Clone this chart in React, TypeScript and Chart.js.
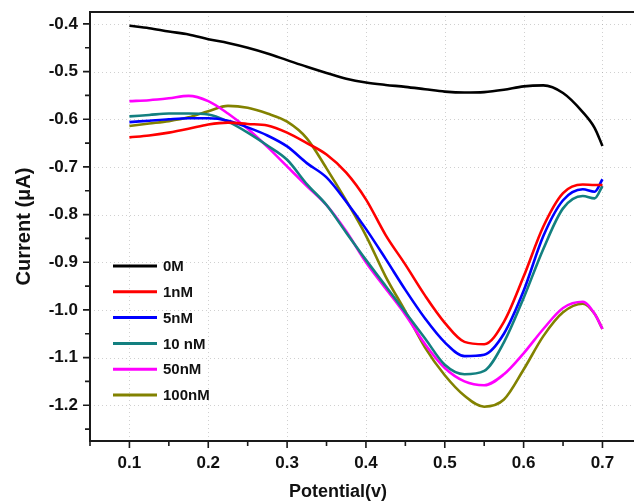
import React, { useEffect, useRef } from 'react';
import { Chart, registerables } from 'chart.js';

Chart.register(...registerables);

// Potential (V)
const potentials = [
  0.1, 0.125, 0.15, 0.175, 0.2, 0.225, 0.25, 0.275, 0.3, 0.325, 0.35, 0.375, 0.4,
  0.425, 0.45, 0.475, 0.5, 0.525, 0.55, 0.575, 0.6, 0.625, 0.65, 0.675, 0.69, 0.7,
];

const seriesLabels = ['0M', '1nM', '5nM', '10 nM', '50nM', '100nM'];
const seriesColors = ['#000000', '#ff0000', '#0000ff', '#138080', '#ff00ff', '#828200'];

const current0M = [
  -0.404, -0.409, -0.416, -0.422, -0.432, -0.44, -0.45, -0.462, -0.476, -0.49, -0.503, -0.515, -0.523,
  -0.528, -0.532, -0.537, -0.542, -0.544, -0.543, -0.538, -0.531, -0.529, -0.545, -0.585, -0.618, -0.656,
];
const current1nM = [
  -0.638, -0.634, -0.628, -0.62, -0.611, -0.607, -0.61, -0.613, -0.628, -0.65, -0.674, -0.712, -0.768,
  -0.843, -0.905, -0.97, -1.027, -1.067, -1.072, -1.025, -0.93, -0.825, -0.755, -0.737, -0.738, -0.738,
];
const current5nM = [
  -0.606, -0.603, -0.6, -0.598, -0.598, -0.603, -0.617, -0.634, -0.657, -0.692, -0.722, -0.773, -0.83,
  -0.893, -0.958, -1.018, -1.068, -1.097, -1.094, -1.05, -0.96, -0.845, -0.77, -0.747, -0.752, -0.726,
];
const current10nM = [
  -0.594, -0.591, -0.588, -0.588, -0.59, -0.605, -0.628, -0.655, -0.685, -0.736, -0.78, -0.838, -0.895,
  -0.95, -1.005, -1.06, -1.115, -1.135, -1.128, -1.068, -0.975, -0.872, -0.787, -0.761, -0.766, -0.74,
];
const current50nM = [
  -0.562, -0.56, -0.556, -0.551, -0.562, -0.588, -0.62, -0.658, -0.699, -0.74, -0.78, -0.835, -0.9,
  -0.955, -1.01, -1.072, -1.122, -1.15, -1.158, -1.135, -1.091, -1.04, -0.996, -0.983, -1.008, -1.04,
];
const current100nM = [
  -0.614, -0.609, -0.604, -0.596, -0.583, -0.572, -0.576, -0.588, -0.605, -0.64, -0.703, -0.771, -0.844,
  -0.93, -1.003, -1.079, -1.137, -1.18, -1.203, -1.188, -1.125, -1.055, -1.005, -0.987, -1.008, -1.04,
];

const allSeries = [current0M, current1nM, current5nM, current10nM, current50nM, current100nM];

// tick positions (major ones carry labels, others are minor)
const xTickValues = [0.05, 0.1, 0.15, 0.2, 0.25, 0.3, 0.35, 0.4, 0.45, 0.5, 0.55, 0.6, 0.65, 0.7];
const yTickValues = [
  -1.25, -1.2, -1.15, -1.1, -1.05, -1.0, -0.95, -0.9, -0.85, -0.8, -0.75, -0.7, -0.65, -0.6,
  -0.55, -0.5, -0.45, -0.4,
];

const xMin = 0.05;
const xMax = 0.74;
const yMin = -1.275;
const yMax = -0.375;

const FONT = '"Liberation Sans", Arial, Helvetica, sans-serif';

const isMult = (v: number, step: number) => Math.abs(v / step - Math.round(v / step)) < 1e-6;

const decorPlugin = {
  id: 'decor',
  beforeDatasetsDraw(chart: any) {
    const { ctx, chartArea: a, scales } = chart;
    const x = scales.x;
    const y = scales.y;
    ctx.save();
    ctx.strokeStyle = 'rgba(150,150,150,0.45)';
    ctx.lineWidth = 1;
    ctx.setLineDash([1, 3]);
    ctx.beginPath();
    x.ticks.forEach((t: any) => {
      if (!isMult(t.value, 0.1)) return;
      const px = Math.round(x.getPixelForValue(t.value)) + 0.5;
      ctx.moveTo(px, a.top);
      ctx.lineTo(px, a.bottom);
    });
    y.ticks.forEach((t: any) => {
      if (!isMult(t.value, 0.1)) return;
      const py = Math.round(y.getPixelForValue(t.value)) + 0.5;
      ctx.moveTo(a.left, py);
      ctx.lineTo(a.right, py);
    });
    ctx.stroke();
    ctx.restore();
  },
  afterDraw(chart: any) {
    const { ctx, chartArea: a, scales } = chart;
    const x = scales.x;
    const y = scales.y;
    ctx.save();
    // frame
    ctx.strokeStyle = '#1a1a1a';
    ctx.lineWidth = 2;
    ctx.beginPath();
    ctx.moveTo(a.right, a.top);
    ctx.lineTo(a.left, a.top);
    ctx.lineTo(a.left, a.bottom);
    ctx.lineTo(a.right, a.bottom);
    ctx.stroke();
    // ticks
    ctx.lineWidth = 1.6;
    ctx.beginPath();
    x.ticks.forEach((t: any) => {
      const px = x.getPixelForValue(t.value);
      const len = isMult(t.value, 0.1) ? 7 : 5;
      ctx.moveTo(px, a.bottom);
      ctx.lineTo(px, a.bottom + len);
    });
    y.ticks.forEach((t: any) => {
      const py = y.getPixelForValue(t.value);
      const len = isMult(t.value, 0.1) ? 7 : 5;
      ctx.moveTo(a.left, py);
      ctx.lineTo(a.left - len, py);
    });
    ctx.stroke();

    // legend
    const ds = chart.data.datasets;
    ctx.font = `bold 15px ${FONT}`;
    ctx.textBaseline = 'middle';
    ctx.textAlign = 'left';
    ds.forEach((d: any, i: number) => {
      const cy = 266 + i * 25.8;
      ctx.strokeStyle = d.borderColor;
      ctx.lineWidth = 3;
      ctx.beginPath();
      ctx.moveTo(a.left + 23, cy);
      ctx.lineTo(a.left + 67, cy);
      ctx.stroke();
      ctx.fillStyle = '#111';
      ctx.fillText(d.label, a.left + 73, cy + 1);
    });

    // axis titles
    ctx.fillStyle = '#111';
    ctx.font = `bold 18px ${FONT}`;
    ctx.textAlign = 'center';
    ctx.textBaseline = 'middle';
    ctx.fillText('Potential(v)', 338, 492);
    ctx.save();
    ctx.translate(24, (a.top + a.bottom) / 2);
    ctx.rotate(-Math.PI / 2);
    ctx.font = `bold 20px ${FONT}`;
    ctx.fillText('Current (\u03bcA)', 0, 0);
    ctx.restore();
    ctx.restore();
  },
};

const noScalePadding = (s: any) => {
  s.paddingTop = 0;
  s.paddingBottom = 0;
  s.paddingLeft = 0;
  s.paddingRight = 0;
};

export default function App() {
  const canvasRef = useRef<HTMLCanvasElement | null>(null);

  useEffect(() => {
    if (!canvasRef.current) return;
    const chart = new Chart(canvasRef.current, {
      type: 'line',
      data: {
        datasets: allSeries.map((vals, i) => ({
          label: seriesLabels[i],
          data: vals.map((v, j) => ({ x: potentials[j], y: v })),
          borderColor: seriesColors[i],
          backgroundColor: seriesColors[i],
          borderWidth: 2.6,
          pointRadius: 0,
          fill: false,
          cubicInterpolationMode: 'monotone' as const,
        })),
      },
      options: {
        animation: false,
        responsive: false,
        maintainAspectRatio: false,
        layout: { padding: { top: 12, right: 0, left: 0, bottom: 0 } },
        plugins: {
          legend: { display: false },
          tooltip: { enabled: false },
          title: { display: false },
        },
        scales: {
          x: {
            type: 'linear',
            min: xMin,
            max: xMax,
            ticks: {
              autoSkip: false,
              maxRotation: 0,
              padding: 12,
              color: '#111',
              font: { family: FONT, size: 17, weight: 'bold' },
              callback: (v: any) => (isMult(Number(v), 0.1) ? Number(v).toFixed(1) : ''),
            },
            grid: { display: false, drawTicks: false },
            border: { display: false },
            afterBuildTicks: (s: any) => {
              s.ticks = xTickValues.map((v) => ({ value: v }));
            },
            afterFit: (s: any) => {
              s.height = 61;
              noScalePadding(s);
            },
          },
          y: {
            type: 'linear',
            min: yMin,
            max: yMax,
            ticks: {
              autoSkip: false,
              padding: 12,
              color: '#111',
              font: { family: FONT, size: 17, weight: 'bold' },
              callback: (v: any) => (isMult(Number(v), 0.1) ? Number(v).toFixed(1) : ''),
            },
            grid: { display: false, drawTicks: false },
            border: { display: false },
            afterBuildTicks: (s: any) => {
              s.ticks = yTickValues.map((v) => ({ value: v }));
            },
            afterFit: (s: any) => {
              s.width = 90;
              noScalePadding(s);
            },
          },
        },
      },
      plugins: [decorPlugin],
    });
    return () => chart.destroy();
  }, []);

  return (
    <div style={{ position: 'fixed', left: 0, top: 0, width: 634, height: 502, background: '#fff' }}>
      <canvas ref={canvasRef} width={634} height={502} style={{ display: 'block' }} />
    </div>
  );
}
